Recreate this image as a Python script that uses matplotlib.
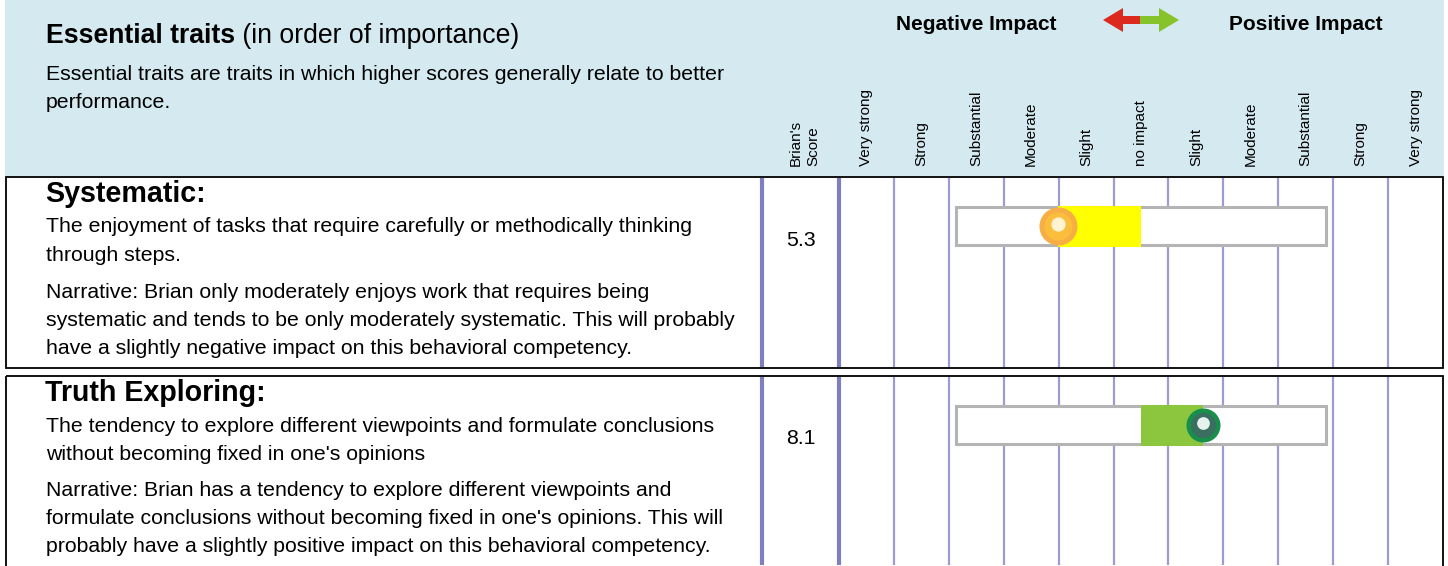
import matplotlib
matplotlib.use("Agg")
import matplotlib.pyplot as plt
from matplotlib.patches import Rectangle, FancyArrow

plt.rcParams['font.family'] = ['Liberation Sans', 'DejaVu Sans']

# ---- data ----
impact_levels = ["Very strong", "Strong", "Substantial", "Moderate", "Slight",
                 "no impact", "Slight", "Moderate", "Substantial", "Strong",
                 "Very strong"]
trait_names = ["Systematic:", "Truth Exploring:"]
trait_scores = [5.3, 8.1]
trait_desc = [
    ["The enjoyment of tasks that require carefully or methodically thinking",
     "through steps."],
    ["The tendency to explore different viewpoints and formulate conclusions",
     "without becoming fixed in one's opinions"],
]
trait_narr = [
    ["Narrative: Brian only moderately enjoys work that requires being",
     "systematic and tends to be only moderately systematic. This will probably",
     "have a slightly negative impact on this behavioral competency."],
    ["Narrative: Brian has a tendency to explore different viewpoints and",
     "formulate conclusions without becoming fixed in one's opinions. This will",
     "probably have a slightly positive impact on this behavioral competency."],
]
neutral_score = 6.9
fill_colors = ["#ffff00", "#8cc63f"]
marker_outer = ["#f6ae45", "#16904a"]
marker_inner = ["#fbbd3c", "#3a6f60"]
marker_light = ["#fff3d2", "#e6f3ec"]

# ---- layout (pixels) ----
W, H = 1448, 566
header_bottom = 177
row_tops = [177, 376]
row_bottoms = [368, 566]
col_w = (1443 - 839) / 11
score_w = 77 / col_w
col_per_score = 0.943


def score_to_col(s):
    # "no impact" column centre is the neutral score
    return 5.5 + (s - neutral_score) * col_per_score


fig = plt.figure(figsize=(W / 100, H / 100), dpi=100)
base = fig.add_axes([0, 0, 1, 1])
base.set_xlim(0, W)
base.set_ylim(H, 0)
base.axis('off')

# header
base.add_patch(Rectangle((5, 0), 1439, header_bottom - 1, fc='#d5eaf0', ec='none'))
t1 = base.text(46, 36, "Essential traits", fontsize=19.2, fontweight='bold',
               va='center', ha='left')
base.annotate(" (in order of importance)", xy=(1, 0.5), xycoords=t1,
              fontsize=19.2, va='center', ha='left')
base.text(46, 75, "Essential traits are traits in which higher scores generally relate to better",
          fontsize=15.3, va='center')
base.text(46, 102, "performance.", fontsize=15.3, va='center')

base.text(976, 25, "Negative Impact", fontsize=15, fontweight='bold', ha='center', va='center')
base.text(1306, 25, "Positive Impact", fontsize=15, fontweight='bold', ha='center', va='center')
base.add_patch(FancyArrow(1141, 20, -38, 0, width=8, head_width=24, head_length=20,
                          length_includes_head=True, fc='#dc2a1e', ec='none'))
base.add_patch(FancyArrow(1140, 20, 39, 0, width=8, head_width=24, head_length=20,
                          length_includes_head=True, fc='#86c22a', ec='none'))

# row frames
for top, bot in zip(row_tops, row_bottoms):
    base.add_patch(Rectangle((6, top), 1437, (bot - top) + (40 if bot == H else 0),
                             fill=False, ec='black', lw=1.3, clip_on=True))

# left text of each trait
for i, top in enumerate(row_tops):
    base.text(45, top + 17, trait_names[i], fontsize=20.6, fontweight='bold', va='center')
    for j, line in enumerate(trait_desc[i]):
        base.text(46, top + 50 + j * 28.5, line, fontsize=15.3, va='center')
    for j, line in enumerate(trait_narr[i]):
        base.text(46, top + 115 + j * 28, line, fontsize=15.3, va='center')

# ---- score grid ----
g = fig.add_axes([762 / W, 0, (1443 - 762) / W, 1])
g.set_xlim(-score_w, 11)
g.set_ylim(H, 0)
g.axis('off')
g.patch.set_alpha(0)

for top, bot in zip(row_tops, row_bottoms):
    g.vlines([-score_w, 0], top + 1, bot - 1, color='#7f7fc0', lw=3, clip_on=False, zorder=1)
    g.vlines(range(1, 11), top + 1, bot - 1, color='#9c9cd2', lw=1.6, zorder=1)

for i, lab in enumerate(impact_levels):
    g.text(i + 0.5, 166, lab, rotation=90, ha='center', va='bottom', fontsize=11)
g.text(-score_w / 2 + 0.08, 166, "Brian's\nScore", rotation=90, ha='center', va='bottom',
       fontsize=11, multialignment='left', linespacing=1.35)

for i, top in enumerate(row_tops):
    s = trait_scores[i]
    yc = top + 49
    g.add_patch(Rectangle((5.5 - 3.37, yc - 19), 6.74, 38, fc='white', ec='#b4b4b4',
                          lw=2.2, zorder=3))
    x0 = score_to_col(min(s, neutral_score))
    x1 = score_to_col(max(s, neutral_score))
    g.add_patch(Rectangle((x0, yc - 20.5), x1 - x0, 41, fc=fill_colors[i], ec='none', zorder=4))
    xs = score_to_col(s)
    big = 750 if i == 0 else 600
    g.scatter([xs], [yc], s=big, c=marker_outer[i], linewidths=0, zorder=5)
    g.scatter([xs], [yc], s=big * 0.55, c=marker_inner[i], linewidths=0, zorder=6)
    g.scatter([xs], [yc - 2], s=big * 0.14, c=marker_light[i], linewidths=0, zorder=7)
    g.text(-score_w / 2, top + 63, f"{s}", ha='center', va='center', fontsize=15.3)

fig.savefig("out.png", dpi=100)
